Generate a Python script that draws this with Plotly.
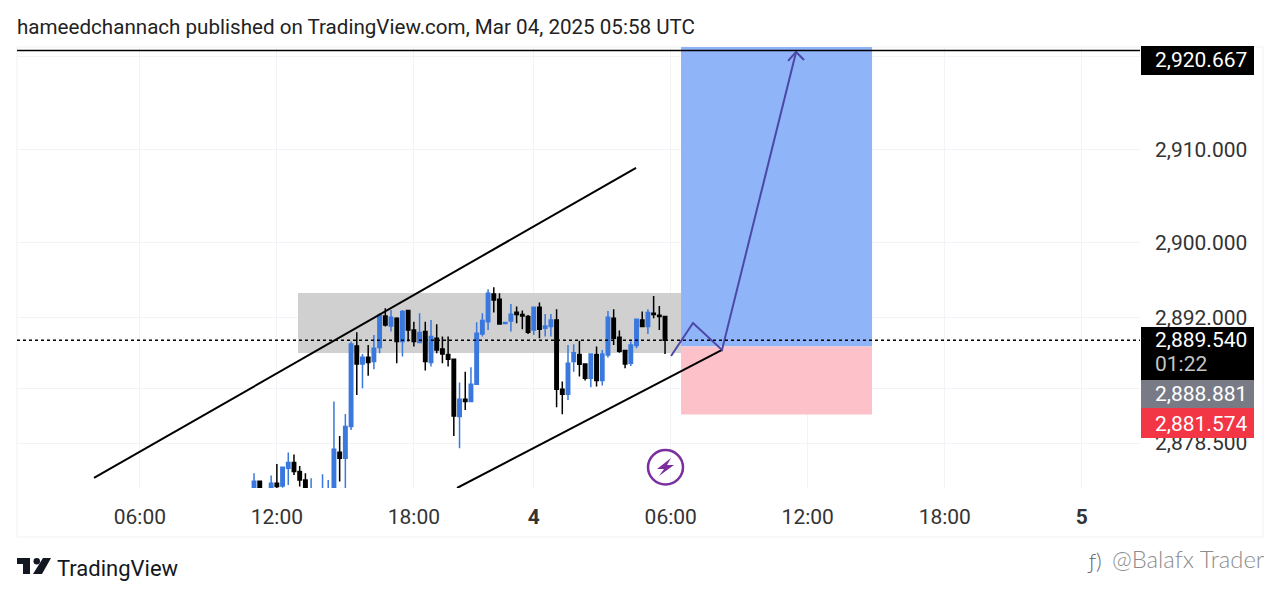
import plotly.graph_objects as go

# ---------- data ----------
bars = list(range(73))
opens = [2873.2,2874.40,None,2873.3,2874.19,2873.90,2875.80,2876.41,2875.44,2874.55,2873.2,None,2873.2,2873.2,2873.4,2877.52,2876.87,2880.28,2888.94,2887.01,2887.72,2887.26,2888.76,2892.16,2891.09,2891.91,2889.41,2892.74,2890.66,2889.30,2890.48,2887.15,2889.76,2888.62,2888.01,2887.51,
         2881.35,2883.21,2882.96,2884.82,2890.23,2891.55,2894.53,2893.95,2891.34,2891.63,2892.56,2892.31,2892.09,2890.66,2893.09,2890.84,2891.02,2891.73,2884.29,2883.75,2887.26,2888.01,2887.01,2885.47,2888.01,2885.22,2887.97,2891.91,2889.87,2888.44,2887.08,2888.98,2891.73,2891.02,2892.45,2892.23,2892.09]
highs = [2875.26,2874.47,None,2875.01,2876.27,2875.98,2877.48,2877.27,2876.05,2875.26,2874.73,None,2875.16,2874.55,2882.96,2879.27,2881.64,2889.41,2890.41,2888.08,2889.05,2890.12,2892.45,2892.99,2892.81,2892.02,2892.81,2892.81,2891.55,2892.45,2891.55,2891.73,2891.27,2889.94,2889.94,2887.51,
         2885.00,2886.18,2886.65,2891.48,2892.45,2895.03,2895.24,2894.60,2891.45,2893.45,2893.17,2892.74,2892.27,2893.09,2893.60,2892.38,2892.38,2892.88,2885.11,2889.05,2889.12,2889.51,2887.08,2888.08,2888.87,2888.51,2892.70,2892.88,2890.59,2888.51,2889.41,2891.81,2892.63,2892.88,2894.31,2893.24,2892.09]
lows = [2872.9,2873.0,None,2873.0,2873.2,2873.7,2874.01,2875.08,2873.83,2873.0,2873.0,None,2873.0,2873.0,2873.0,2874.37,2873.65,2879.92,2883.68,2884.39,2885.75,2886.43,2888.15,2891.02,2890.48,2887.08,2887.80,2889.41,2888.87,2889.23,2886.29,2886.72,2888.15,2887.08,2886.72,2879.27,
        2877.95,2882.07,2882.96,2884.75,2889.94,2890.66,2892.52,2891.30,2891.34,2890.48,2891.38,2890.73,2890.23,2890.12,2889.76,2889.94,2889.94,2882.35,2881.60,2883.14,2886.18,2885.65,2885.22,2884.50,2884.57,2884.68,2887.69,2889.05,2888.22,2886.54,2886.79,2888.69,2890.95,2890.23,2891.91,2890.66,2888.08]
closes = [2874.40,2873.3,None,2874.19,2873.83,2875.91,2876.41,2875.44,2874.55,2873.3,2873.5,None,2873.5,2873.5,2877.84,2876.87,2880.28,2889.16,2887.01,2887.72,2887.15,2888.69,2892.27,2891.20,2892.02,2889.41,2892.63,2890.66,2889.41,2890.37,2887.26,2889.94,2888.51,2888.08,2887.51,2881.42,
          2883.21,2882.96,2884.82,2890.30,2891.66,2894.60,2893.88,2891.30,2891.45,2892.34,2892.31,2892.16,2890.41,2893.09,2890.73,2891.09,2891.73,2884.29,2883.75,2887.08,2888.22,2886.97,2885.47,2888.08,2885.22,2888.08,2892.02,2889.76,2888.37,2887.01,2889.05,2891.81,2891.02,2892.52,2892.31,2892.09,2889.54]

x_tick_bars = [-20, 4, 28, 49, 73, 97, 121, 145]
x_tick_labels = ["06:00", "12:00", "18:00", "<b>4</b>", "06:00", "12:00", "18:00", "<b>5</b>"]
y_tick_values = [2920, 2910, 2900, 2892, 2884.4, 2878.5]
y_tick_labels = ["", "2,910.000", "2,900.000", "2,892.000", "", "2,878.500"]

take_profit = 2920.667
last_price = 2889.54
entry_price = 2888.881
stop_price = 2881.574
zone_top = 2921.05
range_bars = [7.71, 74.8]
range_prices = [2888.18, 2894.63]
position_bars = [74.8, 108.26]
channel_upper_bars = [-28.03, 66.92]
channel_upper_prices = [2874.76, 2908.06]
channel_lower_bars = [35.56, 81.98]
channel_lower_prices = [2873.68, 2888.51]
path_bars = [73.05, 76.9, 81.98, 94.95]
path_prices = [2887.86, 2891.41, 2888.51, 2920.52]
head_bars = [93.55, 94.95, 96.35]
head_prices = [2919.55, 2920.52, 2919.66]

header = "hameedchannach published on TradingView.com, Mar 04, 2025 05:58 UTC"

# ---------- page geometry (chrome only) ----------
W, H = 1280, 597
L, R, T, B = 17, 1140, 47, 488
px = lambda x: (x - L) / (R - L)
py = lambda y: (B - y) / (B - T)
FONT = "Roboto"
PURPLE = "#4d48a8"

fig = go.Figure()
fig.add_trace(go.Candlestick(
    x=bars, open=opens, high=highs, low=lows, close=closes,
    increasing=dict(line=dict(color="#3a78dd", width=1.5), fillcolor="#3a78dd"),
    decreasing=dict(line=dict(color="#000000", width=1.5), fillcolor="#000000"),
    whiskerwidth=0, hoverinfo="skip", showlegend=False))
fig.add_trace(go.Scatter(x=channel_upper_bars, y=channel_upper_prices, mode="lines",
                         line=dict(color="#000", width=2), showlegend=False, hoverinfo="skip"))
fig.add_trace(go.Scatter(x=channel_lower_bars, y=channel_lower_prices, mode="lines",
                         line=dict(color="#000", width=2), showlegend=False, hoverinfo="skip"))
fig.add_trace(go.Scatter(x=path_bars, y=path_prices, mode="lines",
                         line=dict(color=PURPLE, width=2), showlegend=False, hoverinfo="skip"))
fig.add_trace(go.Scatter(x=head_bars, y=head_prices, mode="lines",
                         line=dict(color=PURPLE, width=2), showlegend=False, hoverinfo="skip"))

shapes = [
    dict(type="rect", xref="paper", yref="paper", x0=px(17), x1=px(1263), y0=py(47), y1=py(537),
         line=dict(color="#f0f1f4", width=1), layer="below"),
    dict(type="rect", x0=range_bars[0], x1=range_bars[1], y0=range_prices[0], y1=range_prices[1],
         fillcolor="#d0d0d1", line=dict(width=0), layer="between"),
    dict(type="rect", x0=position_bars[0], x1=position_bars[1], y0=entry_price, y1=zone_top,
         fillcolor="#8fb4f8", line=dict(width=0), layer="between"),
    dict(type="rect", x0=position_bars[0], x1=position_bars[1], y0=stop_price, y1=entry_price,
         fillcolor="#fdc1c9", line=dict(width=0), layer="between"),
    dict(type="line", xref="paper", x0=0, x1=1, y0=take_profit, y1=take_profit,
         line=dict(color="#000", width=1.5)),
    dict(type="line", xref="paper", x0=0, x1=1, y0=last_price, y1=last_price,
         line=dict(color="#000", width=1.5, dash="dot")),
    # price tags
    dict(type="rect", xref="paper", yref="paper", x0=px(1141), x1=px(1254), y0=py(46), y1=py(75),
         fillcolor="#000", line=dict(width=0)),
    dict(type="rect", xref="paper", yref="paper", x0=px(1141), x1=px(1254), y0=py(327), y1=py(380),
         fillcolor="#000", line=dict(width=0)),
    dict(type="rect", xref="paper", yref="paper", x0=px(1141), x1=px(1254), y0=py(380), y1=py(408),
         fillcolor="#787b86", line=dict(width=0)),
    dict(type="rect", xref="paper", yref="paper", x0=px(1141), x1=px(1254), y0=py(408), y1=py(438),
         fillcolor="#f23645", line=dict(width=0)),
    # lightning badge
    dict(type="circle", xref="paper", yref="paper", x0=px(648), x1=px(683), y0=py(450), y1=py(484.5),
         line=dict(color="#7b2f9e", width=2.5), fillcolor="rgba(0,0,0,0)"),
    dict(type="path", xref="paper", yref="paper",
         path=f"M {px(671)} {py(458)} L {px(657)} {py(469)} L {px(664)} {py(469)} L {px(659)} {py(476)} "
              f"L {px(674)} {py(465)} L {px(667)} {py(465)} Z",
         fillcolor="#7b2f9e", line=dict(width=0)),
    # TradingView logo
    dict(type="path", xref="paper", yref="paper",
         path=f"M {px(17)} {py(558)} L {px(30)} {py(558)} L {px(30)} {py(574)} L {px(23)} {py(574)} "
              f"L {px(23)} {py(564)} L {px(17)} {py(564)} Z",
         fillcolor="#131722", line=dict(width=0)),
    dict(type="circle", xref="paper", yref="paper", x0=px(33.5), x1=px(40), y0=py(558), y1=py(564.5),
         fillcolor="#131722", line=dict(width=0)),
    dict(type="path", xref="paper", yref="paper",
         path=f"M {px(43)} {py(558)} L {px(51)} {py(558)} L {px(42)} {py(574)} L {px(33)} {py(574)} Z",
         fillcolor="#131722", line=dict(width=0)),
]

def label(text, x, y, size, color, family=FONT, weight=None):
    f = dict(family=family, size=size, color=color)
    if weight:
        f["weight"] = weight
    return dict(text=text, xref="paper", yref="paper", x=px(x), y=py(y), xanchor="left", yanchor="middle",
                showarrow=False, font=f)

annotations = [
    label(header, 15, 27, 20.6, "#222"),
    label("2,920.667", 1153, 60, 21, "#fff"),
    label("2,889.540", 1153, 340, 21, "#fff"),
    label("01:22", 1153, 364, 21, "#c4c4c4"),
    label("2,888.881", 1153, 394, 21, "#fff"),
    label("2,881.574", 1153, 424, 21, "#fff"),
    label("TradingView", 55, 568, 22, "#131722"),
    label("ƒ)", 1085, 560, 22, "#666", "Lato", 300),
    label("@Balafx Trader", 1110, 559, 23.8, "#8c8c8c", "Lato", 300),
]

fig.update_layout(
    width=W, height=H, autosize=False,
    margin=dict(l=L, r=W - R, t=T, b=H - B),
    paper_bgcolor="#fff", plot_bgcolor="#fff",
    showlegend=False, shapes=shapes, annotations=annotations,
    font=dict(family=FONT, color="#333"), boxgap=0.15,
    xaxis=dict(range=[-41.52, 155.2], tickmode="array", tickvals=x_tick_bars, ticktext=x_tick_labels,
               showgrid=True, gridcolor="#f1f3f6", gridwidth=1, zeroline=False, showline=False,
               ticks="", tickfont=dict(size=21, color="#333"), ticklabelstandoff=14,
               rangeslider=dict(visible=False), fixedrange=True),
    yaxis=dict(range=[2873.68, 2921.05], side="right", tickmode="array", tickvals=y_tick_values,
               ticktext=y_tick_labels, showgrid=True, gridcolor="#f1f3f6", gridwidth=1, zeroline=False,
               showline=False, ticks="", tickfont=dict(size=21, color="#333"), ticklabelstandoff=14,
               fixedrange=True),
)
fig.write_html("out.html", config=dict(displayModeBar=False),
               post_script="document.body.style.margin='0';")
